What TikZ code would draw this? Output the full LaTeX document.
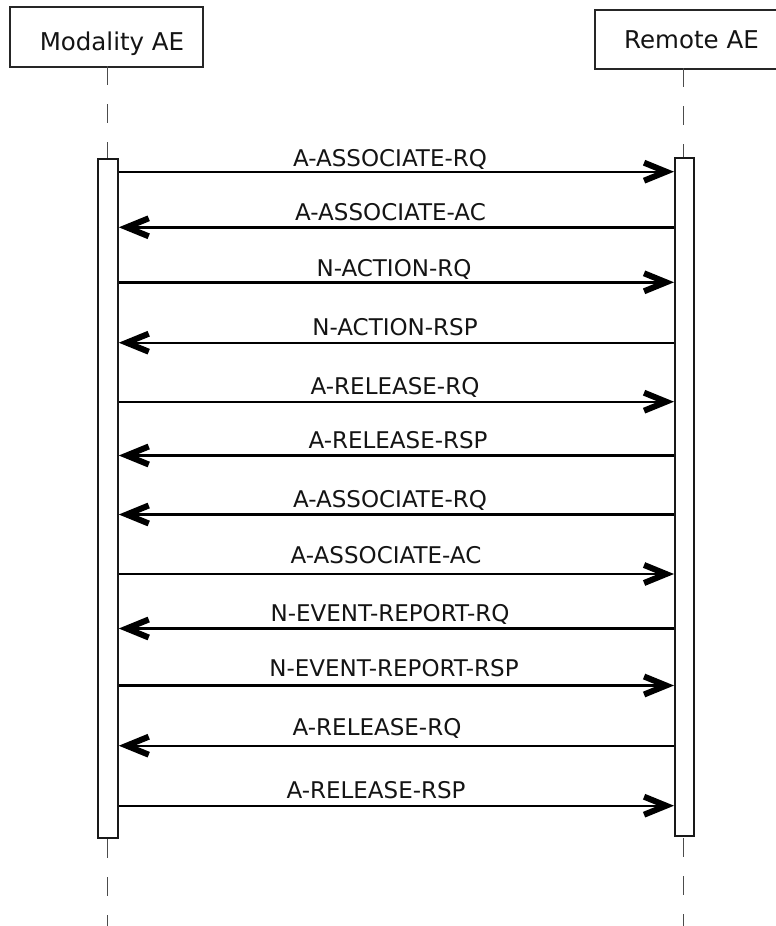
\documentclass[tikz,border=0pt]{standalone}
\usepackage{fontspec}
\setmainfont{DejaVu Sans}
\usetikzlibrary{arrows.meta}
\begin{document}
\begin{tikzpicture}[x=1pt,y=-1pt,
  actorbox/.style={draw=black!85, line width=1.6pt, fill=white, rectangle, inner sep=0pt, anchor=north west},
  actortext/.style={font=\fontsize{24.5}{28}\selectfont, text=black!92, anchor=base, inner sep=0pt},
  actbox/.style={draw=black!90, line width=1.8pt, fill=white, rectangle, inner sep=0pt, anchor=north west, minimum width=19pt},
  lifeline/.style={draw=black!70, line width=1.5pt, dash pattern=on 19pt off 19pt},
  msgline/.style={draw=black, line width=2.4pt, -{Straight Barb[length=22pt,width=18pt,line width=6pt]}},
  msgtext/.style={font=\fontsize{23}{27}\selectfont, text=black!92, anchor=base, inner sep=0pt}]
\useasboundingbox (0,0) rectangle (776,926);
\clip (0,0) rectangle (776,926);
% actors
\node[actorbox, minimum width=193pt, minimum height=60pt] (modbox) at (9,6) {};
\node[actortext] (modlabel) at (112,50.7) {Modality AE};
\node[actorbox, minimum width=196pt, minimum height=59pt] (rembox) at (594,9) {};
\node[actortext] (remlabel) at (691.5,48.3) {Remote AE};
% lifeline ends
\coordinate (endL) at (107.5,926);
\coordinate (endR) at (683.5,926);
% lifelines (under activation boxes)
\coordinate (topL) at (107.5,66);
\coordinate (topR) at (683.5,68);
\draw[lifeline] (topL) -- (107.5,158);
\draw[lifeline] (topR) -- (683.5,157);
\draw[lifeline] (107.5,839) -- (endL);
\draw[lifeline] (683.5,838) -- (endR);
% activation boxes
\node[actbox, minimum width=20pt, minimum height=679pt] (actL) at (97,158) {};
\node[actbox, minimum width=19pt, minimum height=678pt] (actR) at (674,157) {};
% messages
\foreach \i/\yy/\dir/\txt/\cx/\bl in {
  1/171.7/R/A-ASSOCIATE-RQ/390/166,
  2/227.3/L/A-ASSOCIATE-AC/390.5/220,
  3/282.3/R/N-ACTION-RQ/394/276.7,
  4/342.7/L/N-ACTION-RSP/395/335,
  5/401.7/R/A-RELEASE-RQ/395/394,
  6/455.5/L/A-RELEASE-RSP/398/448.3,
  7/514.5/L/A-ASSOCIATE-RQ/390/507.3,
  8/574/R/A-ASSOCIATE-AC/386/563.3,
  9/628.5/L/N-EVENT-REPORT-RQ/390/621,
  10/685.5/R/N-EVENT-REPORT-RSP/394/676.7,
  11/745.7/L/A-RELEASE-RQ/377/735,
  12/805.7/R/A-RELEASE-RSP/376/798.3}{
  \coordinate (row\i) at (0,\yy);
  \node[msgtext] (lab\i) at (\cx,\bl) {\txt};
  \if\dir R
    \draw[msgline] (actL.east |- row\i) -- (actR.west |- row\i);
  \else
    \draw[msgline] (actR.west |- row\i) -- (actL.east |- row\i);
  \fi
}
\end{tikzpicture}
\end{document}
